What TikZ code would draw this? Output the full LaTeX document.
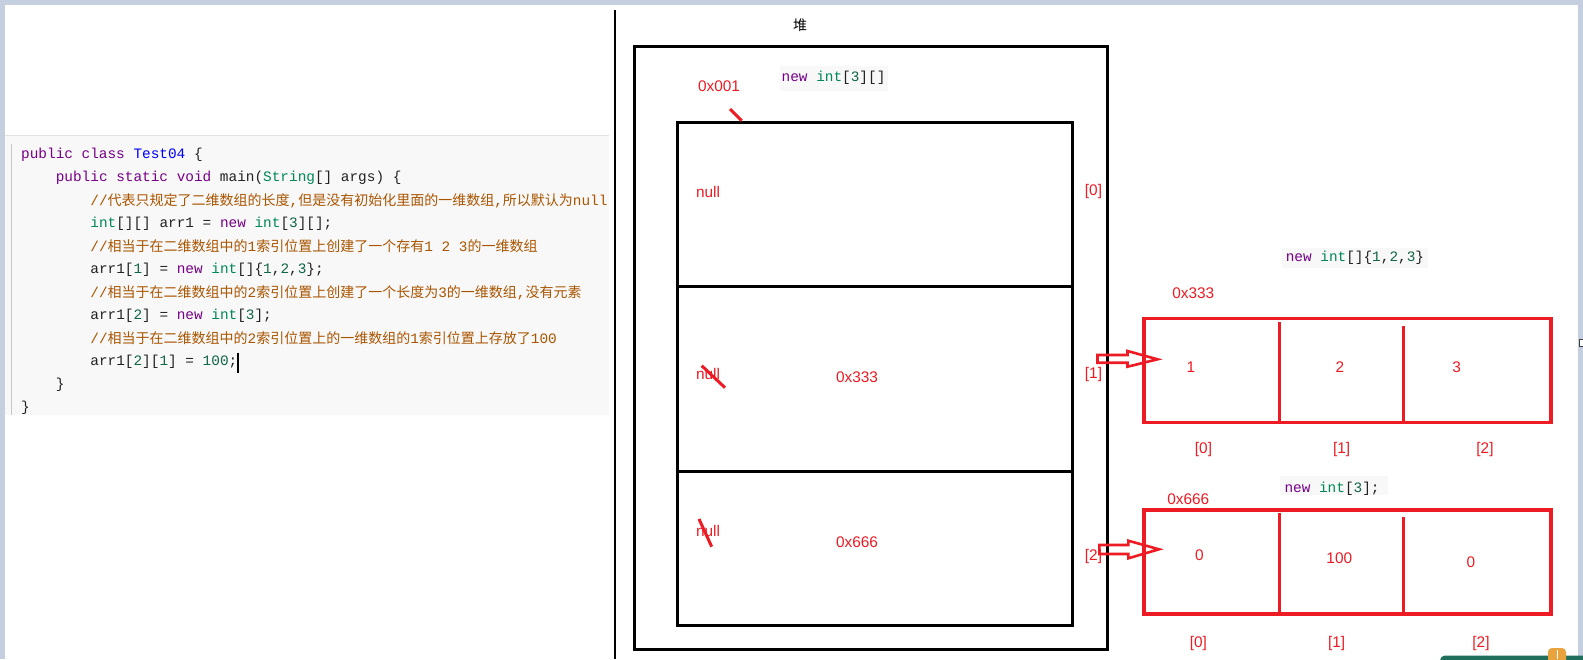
\documentclass[tikz,border=0pt]{standalone}
\usepackage{fontspec}
\usepackage{tikz}
\usetikzlibrary{positioning}
\setmainfont{Liberation Sans}
\newfontfamily\codefont{Liberation Mono}
\newfontfamily\cjkfont{Noto Sans CJK SC}
\definecolor{paintred}{HTML}{ED1C24}
\definecolor{kwpurple}{HTML}{770088}
\definecolor{defblue}{HTML}{0000FF}
\definecolor{typeteal}{HTML}{008855}
\definecolor{numgreen}{HTML}{116644}
\definecolor{cmtbrown}{HTML}{AA5500}
\definecolor{plaintext}{HTML}{222222}
\definecolor{codebg}{HTML}{F8F8F8}
\definecolor{framegray}{HTML}{C5CFE0}
\definecolor{rulegray}{HTML}{E3E3E3}
\definecolor{widgetgreen}{HTML}{1F6F5C}
\definecolor{widgetorange}{HTML}{E8A33C}
\newcommand\codekw[1]{\textcolor{kwpurple}{#1}}
\newcommand\codety[1]{\textcolor{typeteal}{#1}}
\newcommand\codenum[1]{\textcolor{numgreen}{#1}}
\newcommand\codecmt[1]{\textcolor{cmtbrown}{#1}}
\newcommand\zh[1]{{\cjkfont\fontsize{14}{14}\selectfont #1}}
\tikzset{
	codeline/.style={
		anchor=base west,
		inner sep=0pt,
		text=plaintext,
		font=\codefont\fontsize{14.4}{23}\selectfont
	},
	snipbox/.style={fill=codebg, inner sep=0pt, anchor=north west},
	heapbox/.style={draw=black, line width=3pt, inner sep=0pt},
	arraybox/.style={draw=paintred, line width=3.2pt, inner sep=0pt},
	redline/.style={draw=paintred, line width=3pt},
	hollow/.style={draw=paintred, line width=2.6pt, line join=miter},
	redlabel/.style={
		text=paintred,
		inner sep=0pt,
		text height=11pt,
		text depth=0pt,
		font=\fontsize{15.4}{16}\selectfont
	}
}

\begin{document}
\begin{tikzpicture}[x=1pt, y=-1pt]
	\clip (0,0) rectangle (1583,659);
	\fill[white] (0,0) rectangle (1583,659);
	% window frame
	\fill[framegray] (0,0) rectangle (1583,4.7);
	\fill[framegray] (0,0) rectangle (4.7,659);
	\fill[framegray] (1578.3,0) rectangle (1583,659);
	\filldraw[fill=white, draw=darkgray, line width=0.8pt] (1579,339) rectangle (1586,346);

	% code block
	\fill[codebg] (4.7,135) rectangle (609,415);
	\draw[rulegray, line width=1pt] (4.7,135) -- (609,135);
	\draw[gray!45, line width=1pt] (11.7,144) -- (11.7,415);
	\begin{scope}
		\clip (4.7,135) rectangle (609,415);
		\node[codeline] (line1) at (21,158.5) {\codekw{public} \codekw{class} \textcolor{defblue}{Test04} \{};
		\node[codeline] (line2) at (55.6,181.9) {\codekw{public} \codekw{static} \codekw{void} main(\codety{String}[] args) \{};
		\node[codeline] (line3) at (90.2,205.5) {\codecmt{//\zh{代表只规定了二维数组的长度},\zh{但是没有初始化里面的一维数组},\zh{所以默认为}null}};
		\node[codeline] (line4) at (90.2,227.5) {\codety{int}[][] arr1 = \codekw{new} \codety{int}[\codenum{3}][];};
		\node[codeline] (line5) at (90.2,251.5) {\codecmt{//\zh{相当于在二维数组中的}1\zh{索引位置上创建了一个存有}1 2 3\zh{的一维数组}}};
		\node[codeline] (line6) at (90.2,273.5) {arr1[\codenum{1}] = \codekw{new} \codety{int}[]\{\codenum{1},\codenum{2},\codenum{3}\};};
		\node[codeline] (line7) at (90.2,297.5) {\codecmt{//\zh{相当于在二维数组中的}2\zh{索引位置上创建了一个长度为}3\zh{的一维数组},\zh{没有元素}}};
		\node[codeline] (line8) at (90.2,319.5) {arr1[\codenum{2}] = \codekw{new} \codety{int}[\codenum{3}];};
		\node[codeline] (line9) at (90.2,343.5) {\codecmt{//\zh{相当于在二维数组中的}2\zh{索引位置上的一维数组的}1\zh{索引位置上存放了}100}};
		\node[codeline] (line10) at (90.2,365.5) {arr1[\codenum{2}][\codenum{1}] = \codenum{100};};
		\node[codeline] (line11) at (55.6,388.9) {\}};
		\node[codeline] (line12) at (21,411.5) {\}};
	\end{scope}
	\draw[black, line width=1.2pt] (237.9,352.7) -- (237.9,373.3);

	% divider and heap
	\draw[black, line width=2.8pt] (615,10) -- (615,659);
	\node[font=\cjkfont\fontsize{14}{14}\selectfont] (heaplabel) at (800,25) {堆};
	\node[heapbox, minimum width=473, minimum height=603] (heap) at (870.5,347.5) {};
	\node[heapbox, minimum width=395, minimum height=164] (row0) at (874.5,204) {};
	\node[heapbox, minimum width=395, minimum height=185] (row1) at (874.5,378.5) {};
	\node[heapbox, minimum width=395, minimum height=154] (row2) at (874.5,548) {};

	\node[snipbox, minimum width=108, minimum height=25] (snipA) at (780,66) {};
	\node[codeline] (snipAtxt) at (781.5,81.5) {\codekw{new} \codety{int}[\codenum{3}][]};
	\node[redlabel] (addrA) at (719,86) {0x001};
	\draw[redline] (730,109) -- (741.7,120.7);

	\node[redlabel] (null0) at (708,192) {null};
	\node[redlabel] (null1) at (708,374) {null};
	\node[redlabel] (null2) at (708,530.5) {null};
	\draw[redline] (701.7,365.7) -- (725,387.7);
	\draw[redline] (699,519) -- (711.7,546.7);
	\node[redlabel] (ref1) at (857,377) {0x333};
	\node[redlabel] (ref2) at (857,542) {0x666};
	\node[redlabel] (idx0) at (1093.5,190) {[0]};
	\node[redlabel] (idx1) at (1093.5,372.7) {[1]};
	\node[redlabel] (idx2) at (1093.5,555) {[2]};

	% array 0x333
	\node[snipbox, minimum width=145.3, minimum height=20] (snipB) at (1282,247.3) {};
	\node[codeline] (snipBtxt) at (1285.6,261.7) {\codekw{new} \codety{int}[]\{\codenum{1},\codenum{2},\codenum{3}\}};
	\node[redlabel] (addrB) at (1193.3,293.3) {0x333};
	\node[arraybox, minimum width=407, minimum height=104.4] (arrB) at (1347.5,370.5) {};
	\draw[redline] (1279.3,322) -- (1279.3,420.7);
	\draw[redline] (1403.7,325.7) -- (1403.7,422.7);
	\node[redlabel] (valB0) at (1191,367.3) {1};
	\node[redlabel] (valB1) at (1340,367.3) {2};
	\node[redlabel] (valB2) at (1456.7,367.3) {3};
	\node[redlabel] (posB0) at (1203.5,448) {[0]};
	\node[redlabel] (posB1) at (1341.7,448) {[1]};
	\node[redlabel] (posB2) at (1485,448) {[2]};
	\coordinate (tailB) at (1097.5,358.8);
	\draw[hollow] (tailB) ++(0,-3.8) -- ++(30,0) -- ++(0,-4) -- ++(30,8.3) -- ++(-30,7.4) -- ++(0,-4) -- ++(-30,0) -- cycle;

	% array 0x666
	\node[snipbox, minimum width=108, minimum height=18.5] (snipC) at (1280,476) {};
	\node[codeline] (snipCtxt) at (1284.3,492.5) {\codekw{new} \codety{int}[\codenum{3}];};
	\node[redlabel] (addrC) at (1188.3,499.3) {0x666};
	\node[arraybox, minimum width=407, minimum height=104] (arrC) at (1347.5,562) {};
	\draw[redline] (1279.3,513.3) -- (1279.3,611.7);
	\draw[redline] (1403.7,516.7) -- (1403.7,614);
	\node[redlabel] (valC0) at (1199.3,555) {0};
	\node[redlabel] (valC1) at (1339.3,557.7) {100};
	\node[redlabel] (valC2) at (1471,561.7) {0};
	\node[redlabel] (posC0) at (1198.3,641.7) {[0]};
	\node[redlabel] (posC1) at (1336.7,641.7) {[1]};
	\node[redlabel] (posC2) at (1481,642) {[2]};
	\coordinate (tailC) at (1099.3,549.5);
	\draw[hollow] (tailC) ++(0,-4.5) -- ++(29,0) -- ++(0,-4.3) -- ++(30.7,8.6) -- ++(-30.7,9) -- ++(0,-4.3) -- ++(-29,0) -- cycle;

	% taskbar widget
	\fill[widgetgreen, rounded corners=5pt] (1440,655.5) rectangle (1600,680);
	\fill[widgetorange, rounded corners=4pt] (1548,648) rectangle (1566,668);
	\draw[white, line width=1pt] (1557,650) -- (1557,659);
\end{tikzpicture}
\end{document}
